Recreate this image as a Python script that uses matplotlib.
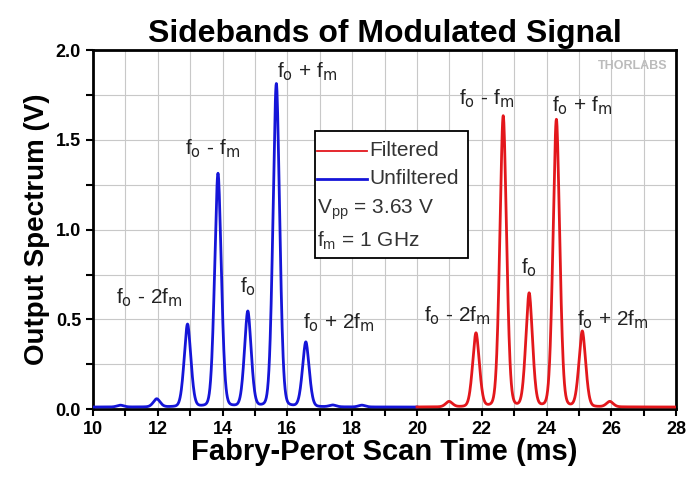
import numpy as np
import matplotlib
matplotlib.use("Agg")
import matplotlib.pyplot as plt
from matplotlib.patches import Rectangle
from matplotlib.lines import Line2D

# ---- data ----
blue_pos = [10.85, 11.97, 12.92, 13.86, 14.78, 15.66, 16.57, 17.4, 18.3]
blue_amp = [0.01, 0.045, 0.46, 1.30, 0.53, 1.80, 0.36, 0.01, 0.01]
red_pos = [20.99, 21.82, 22.66, 23.46, 24.30, 25.10, 25.95]
red_amp = [0.03, 0.41, 1.62, 0.63, 1.60, 0.42, 0.03]
blue_range = [10.0, 20.0]
red_range = [20.0, 28.0]
baseline = 0.012
sigma = 0.11
gamma = 0.08
lor_frac = 0.2

labels_blue = [(11.75, 0.62, r"f$_\mathrm{o}$ - 2f$_\mathrm{m}$"),
               (13.7, 1.45, r"f$_\mathrm{o}$ - f$_\mathrm{m}$"),
               (14.78, 0.68, r"f$_\mathrm{o}$"),
               (16.6, 1.88, r"f$_\mathrm{o}$ + f$_\mathrm{m}$"),
               (17.6, 0.48, r"f$_\mathrm{o}$ + 2f$_\mathrm{m}$")]
labels_red = [(21.25, 0.52, r"f$_\mathrm{o}$ - 2f$_\mathrm{m}$"),
              (22.15, 1.73, r"f$_\mathrm{o}$ - f$_\mathrm{m}$"),
              (23.46, 0.79, r"f$_\mathrm{o}$"),
              (25.1, 1.69, r"f$_\mathrm{o}$ + f$_\mathrm{m}$"),
              (26.05, 0.50, r"f$_\mathrm{o}$ + 2f$_\mathrm{m}$")]


def spectrum(x, pos, amp):
    y = np.full_like(x, baseline)
    for p, a in zip(pos, amp):
        g = np.exp(-0.5 * ((x - p) / sigma) ** 2)
        l = 1.0 / (1.0 + ((x - p) / gamma) ** 2)
        y += a * ((1 - lor_frac) * g + lor_frac * l)
    return y


plt.rcParams['font.family'] = ['Liberation Sans', 'DejaVu Sans']
plt.rcParams['mathtext.default'] = 'regular'

fig = plt.figure(figsize=(6.88, 4.82), dpi=100)
ax = fig.add_axes([0.135, 0.151, 0.848, 0.745])

xb = np.arange(blue_range[0], blue_range[1] + 1e-9, 0.01)
xr = np.arange(red_range[0], red_range[1] + 1e-9, 0.01)
ax.plot(xb, spectrum(xb, blue_pos, blue_amp), color='#1515d8', lw=2.0, zorder=3)
ax.plot(xr, spectrum(xr, red_pos, red_amp), color='#e3171c', lw=2.0, zorder=3)

ax.set_xlim(10, 28)
ax.set_ylim(0, 2.0)
ax.set_xticks(np.arange(10, 29, 2))
ax.set_xticks(np.arange(11, 28, 2), minor=True)
ax.set_yticks([0, 0.5, 1.0, 1.5, 2.0])
ax.set_yticks([0.25, 0.75, 1.25, 1.75], minor=True)
ax.set_yticklabels(['0.0', '0.5', '1.0', '1.5', '2.0'])
ax.grid(True, which='both', color='#c8c8c8', lw=0.8)
ax.set_axisbelow(True)
ax.tick_params(which='both', direction='out', width=1.5, length=5, labelsize=13)
for lab in ax.get_xticklabels() + ax.get_yticklabels():
    lab.set_fontweight('bold')
for s in ax.spines.values():
    s.set_linewidth(2.0)

ax.set_title('Sidebands of Modulated Signal', fontsize=23, fontweight='bold', pad=6)
ax.set_xlabel('Fabry-Perot Scan Time (ms)', fontsize=21, fontweight='bold', labelpad=0)
ax.set_ylabel('Output Spectrum (V)', fontsize=20, fontweight='bold', labelpad=4)

for x, y, t in labels_blue + labels_red:
    ax.text(x, y, t, fontsize=15, color='#222222', ha='center', va='center')

ax.text(0.985, 0.955, 'THORLABS', transform=ax.transAxes, fontsize=9,
        fontweight='bold', color='#bbbbbb', ha='right', va='center')

# legend box
ax.add_patch(Rectangle((0.381, 0.42), 0.262, 0.354, transform=ax.transAxes,
                       facecolor='white', edgecolor='black', lw=1.3, zorder=5))
ax.add_line(Line2D([0.384, 0.47], [0.72, 0.72], transform=ax.transAxes,
                   color='#e3171c', lw=1.3, zorder=6))
ax.add_line(Line2D([0.384, 0.47], [0.642, 0.642], transform=ax.transAxes,
                   color='#1515d8', lw=2.0, zorder=6))
ax.text(0.474, 0.72, 'Filtered', transform=ax.transAxes, fontsize=15,
        color='#333333', va='center', zorder=6)
ax.text(0.474, 0.642, 'Unfiltered', transform=ax.transAxes, fontsize=15,
        color='#333333', va='center', zorder=6)
ax.text(0.384, 0.555, r'V$_{pp}$ = 3.63 V', transform=ax.transAxes, fontsize=15,
        color='#333333', va='center', zorder=6)
ax.text(0.384, 0.47, r'f$_{m}$ = 1 GHz', transform=ax.transAxes, fontsize=15,
        color='#333333', va='center', zorder=6)

fig.savefig('out.png', dpi=100)
